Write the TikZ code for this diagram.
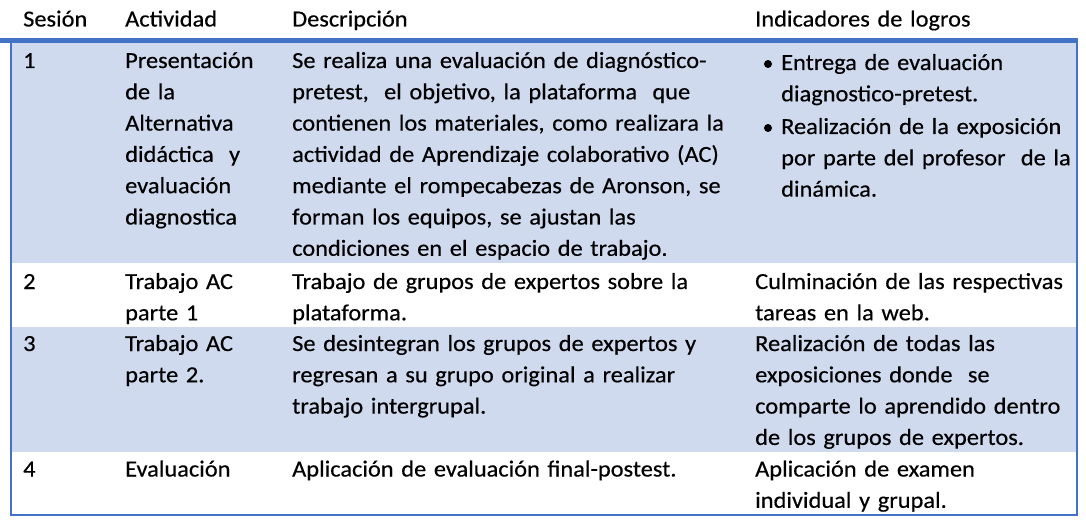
\documentclass[tikz,border=0pt]{standalone}
\usepackage{fontspec}
\setmainfont{Carlito}[FakeStretch=1.06, FakeBold=0.4]
\usepackage{tikz}
\usetikzlibrary{positioning}
\definecolor{rowblue}{RGB}{207,218,238}
\definecolor{lineblue}{RGB}{68,114,196}
\tikzstyle{cell} = [anchor=base west, inner sep=0pt, align=left, text width=470pt,
  font=\fontsize{23}{31.3}\selectfont]
\tikzstyle{dot} = [circle, minimum size=8pt, fill, inner sep=0pt]

\begin{document}
\begin{tikzpicture}[x=1pt, y=-1pt]
        \useasboundingbox (0,0) rectangle (1086,529);
        % shaded rows
        \fill[rowblue] (12.3,43.3) rectangle (1075.7,263.3);
        \fill[rowblue] (12.3,327) rectangle (1075.7,452.3);
        % frame
        \draw[lineblue, line width=2pt] (11.2,43) -- (11.2,515.3) -- (1076.7,515.3) -- (1076.7,43);
        \draw[lineblue, line width=5pt] (0,40.8) -- (1077.7,40.8);
        % header
        \node (hs) [cell] at (23,26.5) {Sesión};
        \node (ha) [cell] at (125,26.5) {Actividad};
        \node (hd) [cell] at (292,26.5) {Descripción};
        \node (hi) [cell] at (755,26.5) {Indicadores de logros};
        % row 1
        \node (s1) [cell] at (23,68) {1};
        \node (a1) [cell] at (125,68) {Presentación\\de la\\Alternativa\\didáctica\ \ y\\evaluación\\diagnostica};
        \node (d1) [cell] at (292,68) {Se realiza una evaluación de diagnóstico-\\pretest,\ \ el objetivo, la plataforma\ \ que\\contienen los materiales, como realizara la\\actividad de Aprendizaje colaborativo (AC)\\mediante el rompecabezas de Aronson, se\\forman los equipos, se ajustan las\\condiciones en el espacio de trabajo.};
        \node (b1) [dot] at (768,64) {};
        \node (i1) [cell] at (781,70) {Entrega de evaluación\\diagnostico-pretest.};
        \node (b2) [dot] at (768,128) {};
        \node (i2) [cell] at (781,134) {Realización de la exposición\\por parte del profesor\ \ de la\\dinámica.};
        % row 2
        \node (s2) [cell] at (23,289) {2};
        \node (a2) [cell] at (125,289) {Trabajo AC\\parte 1};
        \node (d2) [cell] at (292,289) {Trabajo de grupos de expertos sobre la\\plataforma.};
        \node (i3) [cell] at (755,289) {Culminación de las respectivas\\tareas en la web.};
        % row 3
        \node (s3) [cell] at (23,351) {3};
        \node (a3) [cell] at (125,351) {Trabajo AC\\parte 2.};
        \node (d3) [cell] at (292,351) {Se desintegran los grupos de expertos y\\regresan a su grupo original a realizar\\trabajo intergrupal.};
        \node (i4) [cell] at (755,351) {Realización de todas las\\exposiciones donde\ \ se\\comparte lo aprendido dentro\\de los grupos de expertos.};
        % row 4
        \node (s4) [cell] at (23,476.5) {4};
        \node (a4) [cell] at (125,476.5) {Evaluación};
        \node (d4) [cell] at (292,476.5) {Aplicación de evaluación final-postest.};
        \node (i5) [cell] at (755,476.5) {Aplicación de examen\\individual y grupal.};
    \end{tikzpicture}
\end{document}
